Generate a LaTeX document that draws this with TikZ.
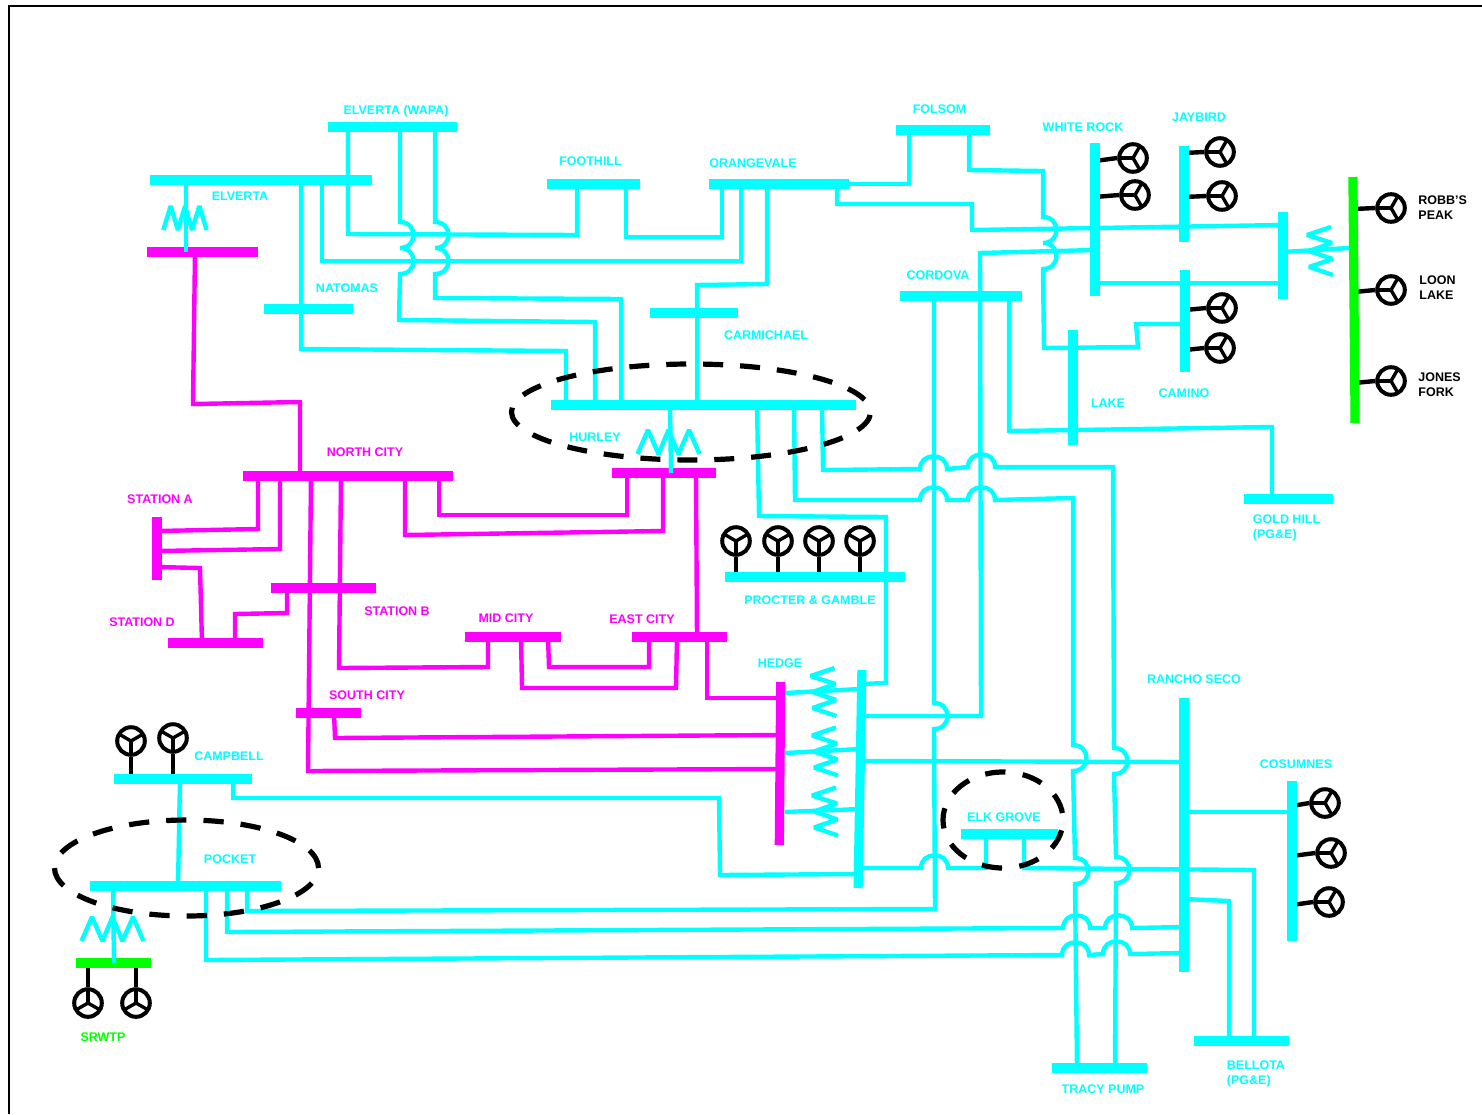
\documentclass[tikz,border=0pt]{standalone}
\usepackage{fontspec}
\setmainfont{Liberation Sans}
\usetikzlibrary{shapes.geometric}

\definecolor{linecyan}{RGB}{0,255,255}
\definecolor{linepink}{RGB}{255,0,255}
\definecolor{linegreen}{RGB}{0,255,0}

% hop over a crossing line
\newcommand{\hopR}{.. controls +(18,0) and +(18,0) .. ++(0,26)}
\newcommand{\hopU}{.. controls +(0,-17) and +(0,-17) .. ++(27,0)}

\tikzset{
	cyanbus/.style={fill=linecyan,inner sep=0pt},
	pinkbus/.style={fill=linepink,inner sep=0pt},
	greenbus/.style={fill=linegreen,inner sep=0pt},
	wide/.style={minimum width=#1*0.5pt,minimum height=4.8pt},
	tall/.style={minimum height=#1*0.5pt,minimum width=4.6pt},
	feed/.style={draw=linecyan,line width=2.2pt,line join=miter},
	pinkfeed/.style={draw=linepink,line width=2.2pt},
	stem/.style={draw=black,line width=2.2pt},
	gen/.style={circle,draw=black,line width=2pt,inner sep=0pt,minimum size=13.8pt,
		path picture={
			\draw[line width=1.7pt] (path picture bounding box.center) -- +(#1:9pt);
			\draw[line width=1.7pt] (path picture bounding box.center) -- +(#1+120:9pt);
			\draw[line width=1.7pt] (path picture bounding box.center) -- +(#1+240:9pt);
		}},
	ring/.style={ellipse,draw=black,line width=2.6pt,inner sep=0pt},
	txt/.style={inner sep=0pt,font=\bfseries\fontsize{6.25}{7.4}\selectfont,text=linecyan},
	pinktxt/.style={txt,text=linepink},
	blacktxt/.style={txt,text=black,align=left,anchor=west},
	coilrow/.pic={
		\draw[feed,line join=bevel] (-31,12) -- (-20.5,-12) -- (-10,12) -- (0,-12) -- (10,12) -- (20.5,-12) -- (31,12);
	},
	coilstack/.pic={
		\draw[feed,line join=bevel] (11,-24) -- (-13,-16) -- (12,-8) -- (-11,0) -- (12.5,8) -- (-11,16) -- (13,24);
	},
}

\begin{document}
\begin{tikzpicture}[x=0.5pt,y=-0.5pt]
	\useasboundingbox (0,0) rectangle (1482,1114);
	\draw[line width=1pt] (9,1114) -- (9,6) -- (1482,6);

	% generators
	\node[gen=180] (whiterockA) at (1133,158) {};
	\node[gen=180] (whiterockB) at (1135,195) {};
	\node[gen=180] (jaybirdA) at (1220,152) {};
	\node[gen=180] (jaybirdB) at (1222,196) {};
	\node[gen=180] (caminoA) at (1222,308) {};
	\node[gen=180] (caminoB) at (1220,348) {};
	\node[gen=180] (robbs) at (1391,208) {};
	\node[gen=180] (loon) at (1391,290) {};
	\node[gen=180] (jones) at (1391,381) {};
	\node[gen=180] (cosumnesA) at (1325,803) {};
	\node[gen=180] (cosumnesB) at (1331,853) {};
	\node[gen=180] (cosumnesC) at (1329,902) {};
	\node[gen=270] (procterA) at (736,541) {};
	\node[gen=270] (procterB) at (778,541) {};
	\node[gen=270] (procterC) at (819,541) {};
	\node[gen=270] (procterD) at (860,541) {};
	\node[gen=270] (campbellA) at (131,741) {};
	\node[gen=270] (campbellB) at (173,738) {};
	\node[gen=90] (srwtpA) at (88,1003) {};
	\node[gen=90] (srwtpB) at (136,1003) {};

	% buses
	\coordinate (whiterockX) at (1095,0);
	\coordinate (jaybirdX) at (1184,0);
	\coordinate (caminoX) at (1185,0);
	\coordinate (cosumnesX) at (1292,0);
	\coordinate (robbX) at (1354,0);
	\coordinate (procterY) at (0,577);
	\coordinate (campbellY) at (0,779);
	\coordinate (srwtpY) at (0,963);

	\draw[stem] (whiterockA.west) -- (whiterockX |- 0,161);
	\draw[stem] (whiterockB.west) -- (whiterockX |- 0,197);
	\draw[stem] (jaybirdA.west) -- (jaybirdX |- 0,153);
	\draw[stem] (jaybirdB.west) -- (jaybirdX |- 0,197);
	\draw[stem] (caminoA.west) -- (caminoX |- 0,310);
	\draw[stem] (caminoB.west) -- (caminoX |- 0,350);
	\draw[stem] (robbs.west) -- (robbX |- 0,209);
	\draw[stem] (loon.west) -- (robbX |- 0,292);
	\draw[stem] (jones.west) -- (robbX |- 0,383);
	\draw[stem] (cosumnesA.west) -- (cosumnesX |- 0,806);
	\draw[stem] (cosumnesB.west) -- (cosumnesX |- 0,856);
	\draw[stem] (cosumnesC.west) -- (cosumnesX |- 0,905);
	\draw[stem] (procterA.south) -- (procterA |- procterY);
	\draw[stem] (procterB.south) -- (procterB |- procterY);
	\draw[stem] (procterC.south) -- (procterC |- procterY);
	\draw[stem] (procterD.south) -- (procterD |- procterY);
	\draw[stem] (campbellA.south) -- (campbellA |- campbellY);
	\draw[stem] (campbellB.south) -- (campbellB |- campbellY);
	\draw[stem] (srwtpA.north) -- (srwtpA |- srwtpY);
	\draw[stem] (srwtpB.north) -- (srwtpB |- srwtpY);

	\node[cyanbus,wide=129] (elvertawapa) at (392.5,127) {};
	\node[cyanbus,wide=222] (elverta) at (261,180) {};
	\node[cyanbus,wide=89] (natomas) at (308.5,309) {};
	\node[cyanbus,wide=93] (foothill) at (593.5,184) {};
	\node[cyanbus,wide=140] (orangevale) at (779,184) {};
	\node[cyanbus,wide=94] (folsom) at (943,130) {};
	\node[cyanbus,wide=122] (cordova) at (961,296) {};
	\node[cyanbus,wide=88] (carmichael) at (694,313) {};
	\node[cyanbus,wide=305] (hurley) at (703.5,405) {};
	\node[cyanbus,tall=153] (whiterock) at (1095,219.5) {};
	\node[cyanbus,tall=96] (jaybird) at (1184,194) {};
	\node[cyanbus,tall=102] (camino) at (1185,321) {};
	\node[cyanbus,tall=87] (tiebus) at (1283,255.5) {};
	\node[cyanbus,tall=115] (lake) at (1073,387.5) {};
	\node[cyanbus,wide=89] (goldhill) at (1288.5,499) {};
	\node[cyanbus,wide=180] (procter) at (815,577) {};
	\node[cyanbus,tall=218,rotate=-1] (hedge) at (860,779) {};
	\node[cyanbus,tall=274] (rancho) at (1184,835) {};
	\node[cyanbus,tall=160] (cosumnes) at (1292,861) {};
	\node[cyanbus,wide=97] (elkgrove) at (1009.5,834) {};
	\node[cyanbus,wide=138] (campbell) at (183,779) {};
	\node[cyanbus,wide=191] (pocket) at (185.5,886) {};
	\node[cyanbus,wide=95] (tracy) at (1099.5,1068) {};
	\node[cyanbus,wide=95] (bellota) at (1241.5,1041) {};

	\node[pinkbus,wide=111] (elvertalow) at (202.5,252) {};
	\node[pinkbus,wide=210] (northcity) at (348,476) {};
	\node[pinkbus,tall=63] (stationa) at (157,548.5) {};
	\node[pinkbus,wide=105] (stationb) at (323.5,588) {};
	\node[pinkbus,wide=95] (stationd) at (215.5,643) {};
	\node[pinkbus,wide=96] (midcity) at (513,637) {};
	\node[pinkbus,wide=95] (eastcity) at (679.5,637) {};
	\node[pinkbus,wide=104] (hurleylow) at (664,473) {};
	\node[pinkbus,wide=65] (southcity) at (328.5,713) {};
	\node[pinkbus,tall=163,rotate=-0.5] (hedgelow) at (780,763.5) {};

	\node[greenbus,wide=75] (srwtp) at (113.5,963) {};
	\node[greenbus,tall=246,rotate=0.5] (robb) at (1354,300) {};

	% cyan lines
	\draw[feed] (348,0 |- elvertawapa) -- (348,234) -- (577,235) -- (577,0 |- foothill);
	\draw[feed] (400,0 |- elvertawapa) -- (400,222) \hopR \hopR -- (399,320) -- (595,322) -- (595,0 |- hurley);
	\draw[feed] (435,0 |- elvertawapa) -- (435,222) \hopR \hopR -- (435,298) -- (621,299) -- (621,0 |- hurley);
	\draw[feed] (301,0 |- elverta) -- (301,349) -- (566,351) -- (566,0 |- hurley);
	\draw[feed] (322,0 |- elverta) -- (322,261) -- (741,261) -- (741,0 |- orangevale);
	\draw[feed] (186,0 |- elverta) -- (186,0 |- elvertalow);
	\draw[feed] (626,0 |- foothill) -- (626,237) -- (722,237) -- (722,0 |- orangevale);
	\draw[feed] (767,0 |- orangevale) -- (767,284) -- (697,285) -- (697,0 |- carmichael);
	\draw[feed] (697,0 |- carmichael) -- (697,0 |- hurley);
	\draw[feed] (orangevale.east) -- (909,184) -- (909,0 |- folsom);
	\draw[feed] (837,0 |- orangevale) -- (837,204) -- (972,204) -- (972,230) -- (whiterock |- 0,228);
	\draw[feed] (whiterock |- 0,228) -- (tiebus |- 0,225);
	\draw[feed] (969,0 |- folsom) -- (969,170) -- (1043,171) -- (1043,217) \hopR \hopR -- (1044,348) -- (1138,347) -- (1136,324) -- (camino |- 0,324);
	\draw[feed] (whiterock |- 0,250) -- (980,253) -- (981,716) -- (hedge |- 0,716);
	\draw[feed] (934,0 |- cordova) -- (934,703) \hopR -- (935,909) -- (247,911) -- (247,0 |- pocket);
	\draw[feed] (1009,0 |- cordova) -- (1009,431) -- (1272,427) -- (1272,0 |- goldhill);
	\draw[feed] (whiterock |- 0,283) -- (tiebus |- 0,283);
	\draw[feed] (tiebus |- 0,252) -- (robb.west |- 0,248);
	\draw[feed] (670,0 |- hurley) -- (671,0 |- hurleylow);
	\draw[feed] (757,0 |- hurley) -- (759,516) -- (886,517) -- (886,683) -- (hedge |- 0,684);
	\draw[feed] (794,0 |- hurley) -- (795,500) -- (920,500) \hopU -- (968,500) \hopU -- (1073,498) -- (1073,745) \hopR -- (1075,858) \hopR -- (1077,0 |- tracy);
	\draw[feed] (822,0 |- hurley) -- (823,470) -- (920,469) \hopU -- (968,467) \hopU -- (1113,467) -- (1114,748) \hopR -- (1116,857) \hopR -- (1115,0 |- tracy);
	\draw[feed] (hedge |- 0,761) -- (rancho |- 0,762);
	\draw[feed] (hedge |- 0,868) -- (921,868) \hopU -- (986,868) -- (986,0 |- elkgrove);
	\draw[feed] (1024,0 |- elkgrove) -- (1024,868) -- (1254,870) -- (1254,0 |- bellota);
	\draw[feed] (rancho |- 0,899) -- (1229,901) -- (1229,0 |- bellota);
	\draw[feed] (hedge |- 0,874) -- (720,875) -- (719,798) -- (233,798) -- (233,0 |- campbell);
	\draw[feed] (rancho |- 0,812) -- (cosumnes |- 0,812);
	\draw[feed] (227,0 |- pocket) -- (227,932) -- (1063,928) \hopU -- (1105,928) \hopU -- (rancho |- 0,927);
	\draw[feed] (206,0 |- pocket) -- (206,960) -- (1062,955) \hopU -- (1103,954) \hopU -- (rancho |- 0,953);
	\draw[feed] (180,0 |- campbell) -- (178,0 |- pocket);
	\draw[feed] (113,0 |- pocket) -- (114,0 |- srwtp);
	\draw[feed] (hedgelow.east |- 0,693) -- (hedge |- 0,689);
	\draw[feed] (hedgelow.east |- 0,753) -- (hedge |- 0,749);
	\draw[feed] (hedgelow.east |- 0,812) -- (hedge |- 0,809);

	% magenta lines
	\draw[pinkfeed] (195,0 |- elvertalow) -- (193,404) -- (300,402) -- (300,0 |- northcity);
	\draw[pinkfeed] (258,0 |- northcity) -- (258,529) -- (stationa |- 0,531);
	\draw[pinkfeed] (280,0 |- northcity) -- (280,549) -- (stationa |- 0,551);
	\draw[pinkfeed] (311,0 |- northcity) -- (308,771) -- (hedgelow |- 0,769);
	\draw[pinkfeed] (341,0 |- northcity) -- (339,668) -- (488,667) -- (488,0 |- midcity);
	\draw[pinkfeed] (405,0 |- northcity) -- (405,535) -- (663,531) -- (663,0 |- hurleylow);
	\draw[pinkfeed] (439,0 |- northcity) -- (439,515) -- (627,515) -- (627,0 |- hurleylow);
	\draw[pinkfeed] (696,0 |- hurleylow) -- (697,0 |- eastcity);
	\draw[pinkfeed] (stationa |- 0,567) -- (200,568) -- (202,0 |- stationd);
	\draw[pinkfeed] (287,0 |- stationb) -- (287,613) -- (235,614) -- (235,0 |- stationd);
	\draw[pinkfeed] (521,0 |- midcity) -- (522,688) -- (676,688) -- (677,0 |- eastcity);
	\draw[pinkfeed] (548,0 |- midcity) -- (549,667) -- (649,667) -- (649,0 |- eastcity);
	\draw[pinkfeed] (707,0 |- eastcity) -- (707,698) -- (hedgelow |- 0,698);
	\draw[pinkfeed] (334,0 |- southcity) -- (335,738) -- (hedgelow |- 0,735);

	% transformers
	\pic[xscale=0.7] at (185,218) {coilrow};
	\pic at (668.5,442) {coilrow};
	\pic at (112.5,929) {coilrow};
	\pic at (1320,251) {coilstack};
	\pic at (823.5,692) {coilstack};
	\pic at (825,751.5) {coilstack};
	\pic at (825,811.5) {coilstack};

	% dashed areas
	\node[ring,dash pattern=on 10pt off 8.47pt,dash phase=11.47pt,minimum width=179.5pt,minimum height=48pt] (hurleyarea) at (691,412) {};
	\node[ring,dash pattern=on 10.2pt off 8.7pt,dash phase=15.4pt,minimum width=60pt,minimum height=48pt] (elkarea) at (1003,820) {};
	\node[ring,dash pattern=on 10.15pt off 8.5pt,minimum width=132pt,minimum height=48pt] (pocketarea) at (186.5,868) {};

	% labels
	\node[txt] (elvertawapatxt) at (396,111) {ELVERTA (WAPA)};
	\node[txt] (elvertatxt) at (240,196) {ELVERTA};
	\node[txt] (foothilltxt) at (590.5,161) {FOOTHILL};
	\node[txt] (orangevaletxt) at (753,163) {ORANGEVALE};
	\node[txt] (folsomtxt) at (939.5,109) {FOLSOM};
	\node[txt] (whiterocktxt) at (1083,127) {WHITE ROCK};
	\node[txt] (jaybirdtxt) at (1199,117) {JAYBIRD};
	\node[txt] (natomastxt) at (347,288) {NATOMAS};
	\node[txt] (cordovatxt) at (938,275) {CORDOVA};
	\node[txt] (carmichaeltxt) at (766,335) {CARMICHAEL};
	\node[txt] (laketxt) at (1108,403) {LAKE};
	\node[txt] (caminotxt) at (1184,393) {CAMINO};
	\node[txt] (hurleytxt) at (595,437) {HURLEY};
	\node[txt,align=left,anchor=west] (goldhilltxt) at (1252.5,528) {GOLD HILL\\(PG\&E)};
	\node[txt] (proctertxt) at (810,600) {PROCTER \& GAMBLE};
	\node[txt] (hedgetxt) at (780,663) {HEDGE};
	\node[txt] (ranchotxt) at (1194,679) {RANCHO SECO};
	\node[txt] (cosumnestxt) at (1296,764) {COSUMNES};
	\node[txt] (elkgrovetxt) at (1004,817) {ELK GROVE};
	\node[txt] (campbelltxt) at (229,756) {CAMPBELL};
	\node[txt] (pockettxt) at (230,859) {POCKET};
	\node[txt,text=linegreen] (srwtptxt) at (103,1037) {SRWTP};
	\node[txt] (tracytxt) at (1103,1089) {TRACY PUMP};
	\node[txt,align=left,anchor=west] (bellotatxt) at (1226.5,1074) {BELLOTA\\(PG\&E)};

	\node[pinktxt] (northcitytxt) at (365,452) {NORTH CITY};
	\node[pinktxt] (stationatxt) at (160,499) {STATION A};
	\node[pinktxt] (stationbtxt) at (397,611) {STATION B};
	\node[pinktxt] (stationdtxt) at (142,622) {STATION D};
	\node[pinktxt] (midcitytxt) at (506,618) {MID CITY};
	\node[pinktxt] (eastcitytxt) at (642,619) {EAST CITY};
	\node[pinktxt] (southcitytxt) at (367,695) {SOUTH CITY};

	\node[blacktxt] (robbstxt) at (1418,207.5) {ROBB’S\\PEAK};
	\node[blacktxt] (loontxt) at (1419,287.5) {LOON\\LAKE};
	\node[blacktxt] (jonestxt) at (1418,385) {JONES\\FORK};
\end{tikzpicture}
\end{document}
